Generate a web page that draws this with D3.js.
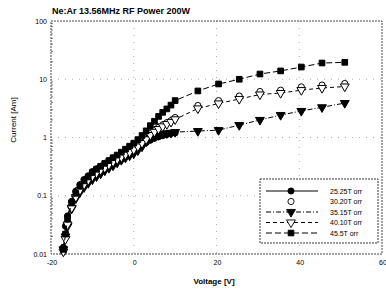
<!DOCTYPE html>
<html>
<head>
<meta charset="utf-8">
<script src="https://cdn.jsdelivr.net/npm/d3@7"></script>
<style>
  body { margin: 0; background: #fff; }
  svg { display: block; font-family: "Liberation Sans", Arial, sans-serif; }
</style>
</head>
<body>
<div id="chart"></div>
<script>
// Ne:Ar probe I-V curves
const title = 'Ne:Ar 13.56MHz RF Power 200W'
const xTicks = [-20, 0, 20, 40, 60]
const yTicks = [0.01, 0.1, 1, 10, 100]
const yTickLabels = ['0.01', '0.1', '1', '10', '100']

const seriesNames = ['25.25T orr', '30.20T orr', '35.15T orr', '40.10T orr', '45.5T orr']

const vDense = [-17, -16.5, -16, -15, -14, -13, -12, -11, -10, -9, -8, -7, -6, -5,
  -4, -3, -2, -1, 0, 1, 2, 3, 4, 5, 6, 7, 8, 9, 10]
const vSparse = [15.5, 20.5, 25.5, 30.5, 35.5, 40.5, 45.5, 51]

const i25 = [0.013, 0.03, 0.045, 0.08, 0.12, 0.155, 0.19, 0.22, 0.26, 0.29, 0.32, 0.36,
  0.4, 0.44, 0.48, 0.52, 0.56, 0.6, 0.64, 0.69, 0.75, 0.82, 0.9, 0.97, 1.03, 1.08,
  1.13, 1.17, 1.2]
const i30 = [0.011, 0.02, 0.034, 0.065, 0.1, 0.13, 0.16, 0.19, 0.22, 0.25, 0.28, 0.31,
  0.35, 0.39, 0.43, 0.48, 0.53, 0.59, 0.66, 0.74, 0.85, 1.0, 1.2, 1.35, 1.5, 1.65,
  1.8, 1.95, 2.2,
  3.54, 4.3, 5.15, 6.16, 6.5, 7.4, 7.95, 8.45]
const i35 = [0.012, 0.02, 0.03, 0.06, 0.09, 0.115, 0.14, 0.165, 0.19, 0.215, 0.24, 0.27,
  0.3, 0.33, 0.37, 0.41, 0.45, 0.49, 0.53, 0.6, 0.7, 0.85, 0.98, 1.05, 1.1, 1.15,
  1.18, 1.2, 1.24,
  1.29, 1.34, 1.63, 2.0, 2.43, 2.85, 3.3, 3.9]
const i40 = [0.011, 0.018, 0.032, 0.062, 0.095, 0.125, 0.155, 0.185, 0.215, 0.245, 0.275,
  0.3, 0.34, 0.38, 0.42, 0.46, 0.51, 0.56, 0.62, 0.7, 0.8, 0.93, 1.1, 1.25, 1.4,
  1.55, 1.7, 1.85, 2.05,
  3.15, 3.84, 4.58, 5.47, 5.8, 6.5, 7.07, 7.5]
const i45 = [0.012, 0.022, 0.04, 0.075, 0.11, 0.145, 0.18, 0.21, 0.25, 0.285, 0.32, 0.36,
  0.4, 0.45, 0.5, 0.56, 0.63, 0.71, 0.8, 0.92, 1.08, 1.3, 1.6, 1.9, 2.3, 2.7,
  3.1, 3.6, 4.3,
  6.3, 8.3, 10, 12.3, 13.9, 16.2, 19, 19.5]

const W = 386, H = 289
const margin = {left: 51, right: 4, top: 21, bottom: 35}

const svg = d3.select('#chart').append('svg').attr('width', W).attr('height', H)

const x = d3.scaleLinear().domain([-20, 60]).range([margin.left, W - margin.right])
const y = d3.scaleLog().domain([0.01, 100]).range([H - margin.bottom, margin.top])

// dotted grid at the major ticks
svg.append('g')
    .selectAll('line.vgrid')
    .data(xTicks.slice(1, -1))
    .enter()
    .append('line')
    .attr('x1', (d) => x(d)).attr('x2', (d) => x(d))
    .attr('y1', y(100)).attr('y2', y(0.01))
    .attr('stroke', '#999').attr('stroke-width', 0.8)
    .attr('stroke-dasharray', '1,6')
svg.append('g')
    .selectAll('line.hgrid')
    .data(yTicks.slice(1, -1))
    .enter()
    .append('line')
    .attr('x1', x(-20)).attr('x2', x(60))
    .attr('y1', (d) => y(d)).attr('y2', (d) => y(d))
    .attr('stroke', '#999').attr('stroke-width', 0.8)
    .attr('stroke-dasharray', '1,6')

// frame (scan looks dotted)
svg.append('rect')
    .attr('x', x(-20)).attr('y', y(100))
    .attr('width', x(60) - x(-20)).attr('height', y(0.01) - y(100))
    .attr('fill', 'none').attr('stroke', '#333').attr('stroke-width', 0.9)
    .attr('stroke-dasharray', '2,1')

// minor ticks on the left axis
const minor = []
yTicks.slice(0, -1).forEach((d) => {
  for (let k = 2; k < 10; k++) minor.push(d * k)
})
svg.append('g')
    .selectAll('line')
    .data(minor)
    .enter()
    .append('line')
    .attr('x1', x(-20)).attr('x2', x(-20) + 2)
    .attr('y1', (d) => y(d)).attr('y2', (d) => y(d))
    .attr('stroke', '#444').attr('stroke-width', 0.7)

// tick labels
svg.append('g')
    .selectAll('text')
    .data(yTicks)
    .enter()
    .append('text')
    .attr('x', x(-20) - 4)
    .attr('y', (d) => y(d) + 2.5)
    .attr('text-anchor', 'end')
    .attr('font-size', 7)
    .text((d, i) => yTickLabels[i])
svg.append('g')
    .selectAll('text')
    .data(xTicks)
    .enter()
    .append('text')
    .attr('x', (d) => x(d) + 1)
    .attr('y', y(0.01) + 11)
    .attr('text-anchor', 'middle')
    .attr('font-size', 7)
    .text((d) => d)

svg.append('text')
    .attr('x', 52).attr('y', 14)
    .attr('font-size', 9).attr('font-weight', 'bold')
    .text(title)
svg.append('text')
    .attr('x', 214).attr('y', 284)
    .attr('text-anchor', 'middle')
    .attr('font-size', 8).attr('font-weight', 'bold')
    .text('Voltage [V]')
svg.append('text')
    .attr('transform', 'translate(16,120) rotate(-90)')
    .attr('text-anchor', 'middle')
    .attr('font-size', 8)
    .text('Current [Am]')

const sym = {
  circle: d3.symbol().type(d3.symbolCircle).size(30),
  tri: d3.symbol().type(d3.symbolTriangle).size(34),
  square: d3.symbol().type(d3.symbolSquare).size(32),
}

const series = [
  {name: seriesNames[0], v: vDense, i: i25, dash: null, line: true, sym: 'circle', fill: '#000', flip: false},
  {name: seriesNames[1], v: vDense.concat(vSparse), i: i30, dash: null, line: false, sym: 'circle', fill: '#fff', flip: false},
  {name: seriesNames[2], v: vDense.concat(vSparse), i: i35, dash: '5,2,1,2', line: true, sym: 'tri', fill: '#000', flip: true},
  {name: seriesNames[3], v: vDense.concat(vSparse), i: i40, dash: '4,3', line: true, sym: 'tri', fill: '#fff', flip: true},
  {name: seriesNames[4], v: vDense.concat(vSparse), i: i45, dash: '6,3', line: true, sym: 'square', fill: '#000', flip: false},
]

const line = d3.line().x((d) => x(d[0])).y((d) => y(d[1]))

series.forEach((s) => {
  const pts = s.v.map((v, k) => [v, s.i[k]])
  const g = svg.append('g')
  if (s.line) {
    g.append('path')
        .datum(pts)
        .attr('d', line)
        .attr('fill', 'none')
        .attr('stroke', '#000')
        .attr('stroke-width', 1)
        .attr('stroke-dasharray', s.dash)
  }
  g.selectAll('path.m')
      .data(pts)
      .enter()
      .append('path')
      .attr('class', 'm')
      .attr('d', sym[s.sym])
      .attr('transform', (d) => `translate(${x(d[0])},${y(d[1])})` + (s.flip ? ' rotate(180)' : ''))
      .attr('fill', s.fill)
      .attr('stroke', '#000')
      .attr('stroke-width', 1)
})

// legend
const lg = svg.append('g').attr('transform', 'translate(260,179)')
lg.append('rect')
    .attr('width', 118).attr('height', 64)
    .attr('fill', '#fff').attr('stroke', '#222').attr('stroke-width', 0.9)
    .attr('stroke-dasharray', '2,1')
series.forEach((s, k) => {
  const yy = 12 + k * 10.5
  if (s.line) {
    lg.append('line')
        .attr('x1', 6).attr('x2', 58).attr('y1', yy).attr('y2', yy)
        .attr('stroke', '#000').attr('stroke-width', 1)
        .attr('stroke-dasharray', s.dash)
  }
  lg.append('path')
      .attr('d', sym[s.sym])
      .attr('transform', `translate(31,${yy})` + (s.flip ? ' rotate(180)' : ''))
      .attr('fill', s.fill).attr('stroke', '#000').attr('stroke-width', 0.9)
  lg.append('text')
      .attr('x', 70).attr('y', yy + 2.5)
      .attr('font-size', 7)
      .text(s.name)
})
</script>
</body>
</html>
